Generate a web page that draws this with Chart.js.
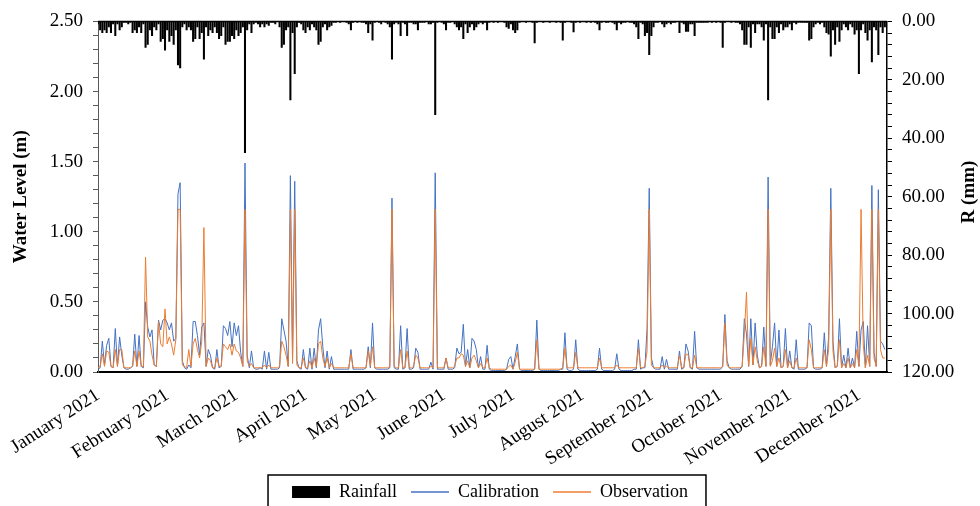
<!DOCTYPE html>
<html>
<head>
<meta charset="utf-8">
<script src="https://cdn.jsdelivr.net/npm/chart.js@4.4.1/dist/chart.umd.min.js"></script>
<style>
  html, body { margin: 0; padding: 0; background: #fff; }
  #wrap { width: 980px; height: 506px; position: relative; }
</style>
</head>
<body>
<div id="wrap"><canvas id="chart"></canvas></div>
<script>
// =====================
// Data: one value per day, day 0 = 1 January 2021
// =====================

// Tick labels on the date axis (one every 32 days)
const monthLabels = ['January 2021', 'February 2021', 'March 2021', 'April 2021', 'May 2021', 'June 2021',
    'July 2021', 'August 2021', 'September 2021', 'October 2021', 'November 2021', 'December 2021'];
const labelStep = 32;

// Daily rainfall (mm)
const rainfall = [
    1,3,4,3,4,2,4,1,5,1,
    3,2,0.5,0.5,1,0.5,4,3,4,2,
    4,1,9,8,3,5,2,3,1,7,
    6,10,3,7,5,8,3,15,16,2,
    1,3,2,3,7,6,2,6,4,13,
    2,5,3,4,2,4,6,5,2,8,
    7,7,5,6,3,5,4,2,45,3,
    1,4,1,0.5,1,2,1,2,1,1.5,
    0.5,0.5,1,0,2,9,8,3,2,27,
    4,18,2,0.5,1,3,4,2,3,1,
    2,3,8,7,2,1,3,2,1.5,0.5,
    0.5,0,0.5,0,0,0.5,1,3,0.5,0,
    0.5,0,0.5,0.5,1,4,1,6.5,0.5,0,
    0.5,1,0,0.5,1,2,13,1,0.5,1,
    5,0.5,1,5,0.5,0.5,1,1,3,0.5,
    0.5,0.5,0,1,1,0.5,32,0.5,0,0.5,
    1,3,0.5,0.5,0,1,2,3,2,6,
    1,4,2,1,3,2,1,0.5,1,0.5,
    3,0.5,0,0.5,0,0.5,0,0,0.5,2,
    2.5,1,3,4,3,0.5,0,0,0.5,0,
    0,0.5,7.5,0.5,0,0,0.5,0,0,0.5,
    0,0,0.5,0,0.5,6.5,0.5,0,0,0.5,
    3.7,0.5,0,0.5,0,0,0.5,0,0.5,0,
    0.5,1,3,0.5,0,0.5,0.5,0,0.5,1,
    3,0.5,1,0.5,0.5,0,0.5,0.5,1,2,
    6,0.5,1,5,4,11.5,5,2,0.5,0.5,
    0,1,2,1,0.5,1,0.5,0.5,0,4,
    0.5,1,3.5,3.5,1,1,5,0.5,0.5,0.5,
    0.5,0.5,0.5,0,0.5,0,0.5,0,0.5,9,
    0.5,0,0,0.5,0,0.5,0.5,1,3,8,
    8,2,9,1,4,1,1,2,6.5,1,
    27,2,6,6,2,4,1,3,2,2,
    1,3,0.5,1,0.5,0.5,0.5,0.5,0.5,6.5,
    6,2,1,0.5,1,0.5,2,4,4.5,12,
    3,8,2,7,3,1,2,3,1,2,
    4.5,3,18,3,1,4,6.5,3,14,2,
    3,11.5,2,4,2
];

// Simulated water level, calibration run (m)
const calibration = [
    0.02,0.03,0.22,0.05,0.19,0.24,0.04,0.03,0.31,0.04,
    0.25,0.12,0.03,0.02,0.02,0.03,0.04,0.27,0.04,0.26,
    0.04,0.03,0.50,0.32,0.25,0.30,0.05,0.04,0.37,0.30,
    0.37,0.38,0.35,0.30,0.35,0.22,0.24,1.27,1.35,0.08,
    0.03,0.02,0.05,0.03,0.36,0.36,0.26,0.12,0.32,0.35,
    0.04,0.16,0.12,0.03,0.02,0.16,0.03,0.04,0.33,0.31,
    0.26,0.36,0.18,0.35,0.26,0.33,0.14,0.04,1.49,0.12,
    0.03,0.15,0.03,0.02,0.02,0.03,0.02,0.15,0.02,0.14,
    0.02,0.02,0.02,0.02,0.03,0.38,0.30,0.22,0.04,1.40,
    0.10,1.36,0.08,0.03,0.02,0.16,0.03,0.02,0.17,0.02,
    0.17,0.03,0.30,0.38,0.18,0.03,0.15,0.02,0.11,0.02,
    0.02,0.02,0.02,0.02,0.02,0.02,0.02,0.16,0.02,0.02,
    0.02,0.02,0.02,0.02,0.03,0.18,0.03,0.35,0.03,0.02,
    0.02,0.02,0.02,0.02,0.02,0.03,1.24,0.03,0.02,0.02,
    0.33,0.02,0.03,0.31,0.02,0.02,0.03,0.17,0.14,0.02,
    0.02,0.02,0.02,0.02,0.07,0.02,1.42,0.02,0.02,0.02,
    0.02,0.10,0.02,0.02,0.02,0.03,0.17,0.13,0.14,0.34,
    0.04,0.16,0.03,0.24,0.22,0.16,0.03,0.11,0.02,0.02,
    0.19,0.02,0.01,0.01,0.01,0.01,0.01,0.01,0.01,0.02,
    0.09,0.11,0.02,0.11,0.20,0.02,0.01,0.01,0.01,0.01,
    0.01,0.01,0.02,0.37,0.02,0.01,0.01,0.01,0.01,0.01,
    0.01,0.01,0.01,0.01,0.02,0.02,0.28,0.02,0.01,0.01,
    0.02,0.23,0.02,0.01,0.01,0.01,0.01,0.01,0.01,0.01,
    0.01,0.02,0.17,0.02,0.01,0.01,0.01,0.01,0.01,0.02,
    0.13,0.02,0.01,0.01,0.01,0.01,0.01,0.01,0.02,0.02,
    0.23,0.02,0.03,0.03,0.31,1.31,0.10,0.03,0.02,0.02,
    0.02,0.11,0.02,0.09,0.02,0.02,0.02,0.02,0.02,0.15,
    0.02,0.03,0.20,0.15,0.03,0.02,0.29,0.03,0.02,0.02,
    0.02,0.02,0.02,0.02,0.02,0.02,0.02,0.02,0.02,0.04,
    0.41,0.08,0.03,0.02,0.02,0.02,0.02,0.02,0.04,0.38,
    0.27,0.04,0.38,0.05,0.35,0.12,0.03,0.04,0.32,0.04,
    1.39,0.05,0.18,0.35,0.04,0.30,0.03,0.04,0.31,0.03,
    0.15,0.03,0.02,0.23,0.02,0.02,0.02,0.02,0.03,0.35,
    0.33,0.03,0.02,0.02,0.02,0.03,0.28,0.04,0.25,1.31,
    0.22,0.03,0.04,0.38,0.03,0.12,0.03,0.17,0.03,0.10,
    0.03,0.29,0.04,0.30,0.36,0.03,0.33,0.04,1.33,0.14,
    0.04,1.30,0.22,0.20,0.16
];

// Observed water level (m)
const observation = [
    0.03,0.04,0.13,0.04,0.15,0.14,0.04,0.03,0.16,0.04,
    0.16,0.16,0.03,0.03,0.03,0.03,0.04,0.15,0.04,0.15,
    0.04,0.04,0.82,0.25,0.22,0.12,0.05,0.04,0.36,0.20,
    0.18,0.45,0.20,0.25,0.20,0.12,0.23,1.16,1.16,0.05,
    0.04,0.03,0.16,0.04,0.20,0.24,0.16,0.10,0.22,1.03,
    0.04,0.10,0.08,0.03,0.03,0.10,0.04,0.04,0.20,0.18,
    0.16,0.20,0.12,0.20,0.15,0.14,0.10,0.04,1.16,0.08,
    0.04,0.06,0.03,0.03,0.03,0.03,0.03,0.05,0.03,0.05,
    0.03,0.03,0.03,0.03,0.04,0.22,0.18,0.12,0.04,1.16,
    0.06,1.16,0.05,0.03,0.03,0.10,0.03,0.03,0.08,0.03,
    0.10,0.04,0.20,0.22,0.10,0.04,0.10,0.03,0.06,0.03,
    0.03,0.03,0.03,0.03,0.03,0.03,0.03,0.13,0.03,0.03,
    0.03,0.03,0.03,0.03,0.03,0.15,0.04,0.18,0.03,0.03,
    0.03,0.03,0.03,0.03,0.03,0.04,1.16,0.04,0.03,0.03,
    0.16,0.03,0.03,0.15,0.03,0.03,0.04,0.12,0.10,0.03,
    0.03,0.03,0.03,0.03,0.04,0.03,1.16,0.03,0.03,0.03,
    0.03,0.10,0.03,0.03,0.03,0.04,0.10,0.10,0.13,0.12,
    0.04,0.08,0.03,0.10,0.12,0.08,0.03,0.06,0.03,0.03,
    0.10,0.03,0.02,0.02,0.02,0.02,0.02,0.02,0.02,0.02,
    0.04,0.05,0.02,0.07,0.14,0.02,0.02,0.02,0.02,0.02,
    0.02,0.02,0.02,0.23,0.02,0.02,0.02,0.02,0.02,0.02,
    0.02,0.02,0.02,0.02,0.02,0.03,0.17,0.03,0.03,0.03,
    0.03,0.14,0.03,0.03,0.03,0.03,0.03,0.03,0.03,0.03,
    0.03,0.03,0.10,0.03,0.03,0.03,0.03,0.03,0.03,0.03,
    0.05,0.03,0.03,0.03,0.03,0.03,0.03,0.03,0.03,0.03,
    0.17,0.03,0.03,0.04,0.15,1.16,0.05,0.03,0.03,0.03,
    0.03,0.05,0.03,0.04,0.03,0.03,0.03,0.03,0.03,0.12,
    0.03,0.03,0.13,0.12,0.03,0.03,0.12,0.03,0.03,0.03,
    0.03,0.03,0.03,0.03,0.03,0.03,0.03,0.03,0.03,0.04,
    0.35,0.05,0.03,0.03,0.03,0.03,0.03,0.03,0.04,0.27,
    0.57,0.04,0.24,0.05,0.18,0.08,0.03,0.04,0.18,0.04,
    1.16,0.04,0.08,0.17,0.04,0.10,0.03,0.04,0.16,0.03,
    0.08,0.03,0.03,0.10,0.03,0.03,0.03,0.03,0.03,0.23,
    0.16,0.03,0.03,0.03,0.03,0.03,0.16,0.04,0.16,1.16,
    0.15,0.03,0.04,0.23,0.03,0.06,0.03,0.10,0.03,0.06,
    0.03,0.16,0.04,1.16,0.20,0.03,0.12,0.04,1.16,0.10,
    0.04,1.16,0.16,0.10,0.10
];

// =====================
// Chart setup
// =====================
const SERIF = "'Liberation Serif', 'Times New Roman', serif";
Chart.defaults.font.family = SERIF;
Chart.defaults.color = '#000';

const toPoints = arr => arr.map((v, i) => ({ x: i, y: v }));

// Frame line on top of the plot + right axis title + legend border
const framePlugin = {
    id: 'frame',
    afterDraw(chart) {
        const ctx = chart.ctx;
        const area = chart.chartArea;
        ctx.save();

        // top line (zero of the rainfall axis)
        ctx.strokeStyle = '#000';
        ctx.lineWidth = 1.5;
        ctx.beginPath();
        ctx.moveTo(area.left, area.top);
        ctx.lineTo(area.right, area.top);
        ctx.stroke();

        // right axis title, reading bottom to top
        ctx.fillStyle = '#000';
        ctx.font = 'bold 19px ' + SERIF;
        ctx.textAlign = 'center';
        ctx.textBaseline = 'middle';
        ctx.translate(969, 192);
        ctx.rotate(-Math.PI / 2);
        ctx.fillText('R (mm)', 0, 0);
        ctx.restore();

        // box round the legend
        const legend = chart.legend;
        if (legend && legend.legendHitBoxes && legend.legendHitBoxes.length) {
            const boxes = legend.legendHitBoxes;
            const left = Math.min(...boxes.map(b => b.left)) - 24;
            const right = Math.max(...boxes.map(b => b.left + b.width)) + 18;
            ctx.save();
            ctx.strokeStyle = '#000';
            ctx.lineWidth = 1.5;
            ctx.strokeRect(left, legend.top + 6, right - left, 60);
            ctx.restore();
        }
    }
};

const ctx = document.getElementById('chart').getContext('2d');

new Chart(ctx, {
    data: {
        datasets: [
            {
                type: 'bar',
                label: 'Rainfall',
                data: toPoints(rainfall),
                yAxisID: 'y2',
                backgroundColor: '#000',
                barPercentage: 0.95,
                categoryPercentage: 1,
                order: 2
            },
            {
                type: 'line',
                label: 'Calibration',
                data: toPoints(calibration),
                yAxisID: 'y',
                borderColor: '#4472C4',
                borderWidth: 1,
                pointRadius: 0,
                tension: 0,
                order: 1
            },
            {
                type: 'line',
                label: 'Observation',
                data: toPoints(observation),
                yAxisID: 'y',
                borderColor: '#ED7D31',
                borderWidth: 1,
                pointRadius: 0,
                tension: 0,
                order: 0
            }
        ]
    },
    options: {
        responsive: true,
        maintainAspectRatio: false,
        animation: false,
        devicePixelRatio: 1,
        layout: { padding: { top: 16, right: 0, left: 0, bottom: -5 } },
        plugins: {
            tooltip: { enabled: false },
            legend: {
                position: 'bottom',
                labels: {
                    font: { size: 18, family: SERIF },
                    color: '#000',
                    usePointStyle: true,
                    pointStyleWidth: 38,
                    boxHeight: 12,
                    padding: 14,
                    generateLabels(chart) {
                        return chart.data.datasets.map((ds, i) => ({
                            text: ds.label,
                            datasetIndex: i,
                            fillStyle: ds.type === 'bar' ? ds.backgroundColor : ds.borderColor,
                            strokeStyle: ds.type === 'bar' ? ds.backgroundColor : ds.borderColor,
                            lineWidth: ds.type === 'bar' ? 0 : 1.5,
                            pointStyle: ds.type === 'bar' ? 'rect' : 'line',
                            hidden: false,
                            fontColor: '#000'
                        }));
                    }
                }
            }
        },
        scales: {
            x: {
                type: 'linear',
                min: 0,
                max: 365,
                offset: false,
                grid: { display: false },
                border: { display: true, color: '#000', width: 2 },
                ticks: {
                    autoSkip: false,
                    maxRotation: 33,
                    minRotation: 33,
                    padding: 4,
                    font: { size: 19 },
                    callback: v => monthLabels[Math.round(v / labelStep)] || ''
                },
                // one tick per label, every 32 days
                afterBuildTicks: scale => {
                    scale.ticks = monthLabels.map((_, i) => ({ value: i * labelStep }));
                },
                afterFit: scale => { scale.height = 97; }
            },
            y: {
                position: 'left',
                min: 0,
                max: 2.5,
                grid: { drawOnChartArea: false, drawTicks: true, tickLength: 5, color: '#595959' },
                border: { display: true, color: '#595959', width: 1 },
                ticks: {
                    stepSize: 0.1,
                    maxTicksLimit: 40,
                    autoSkip: false,
                    padding: 10,
                    font: { size: 19 },
                    callback: v => (Math.round(v * 10) % 5 === 0 ? v.toFixed(2) : '')
                },
                title: {
                    display: true,
                    text: 'Water Level (m)',
                    font: { size: 19, weight: 'bold' },
                    padding: { top: 10, bottom: 0 }
                },
                afterFit: scale => { scale.width = 98; }
            },
            y2: {
                position: 'right',
                reverse: true,
                min: 0,
                max: 120,
                grid: { drawOnChartArea: false, drawTicks: true, tickLength: 5, color: '#000' },
                border: { display: true, color: '#000', width: 1.5 },
                ticks: {
                    stepSize: 4,
                    maxTicksLimit: 40,
                    autoSkip: false,
                    padding: 10,
                    font: { size: 19 },
                    callback: v => (v % 20 === 0 ? v.toFixed(2) : '')
                },
                afterFit: scale => { scale.width = 93; }
            }
        }
    },
    plugins: [framePlugin]
});
</script>
</body>
</html>
